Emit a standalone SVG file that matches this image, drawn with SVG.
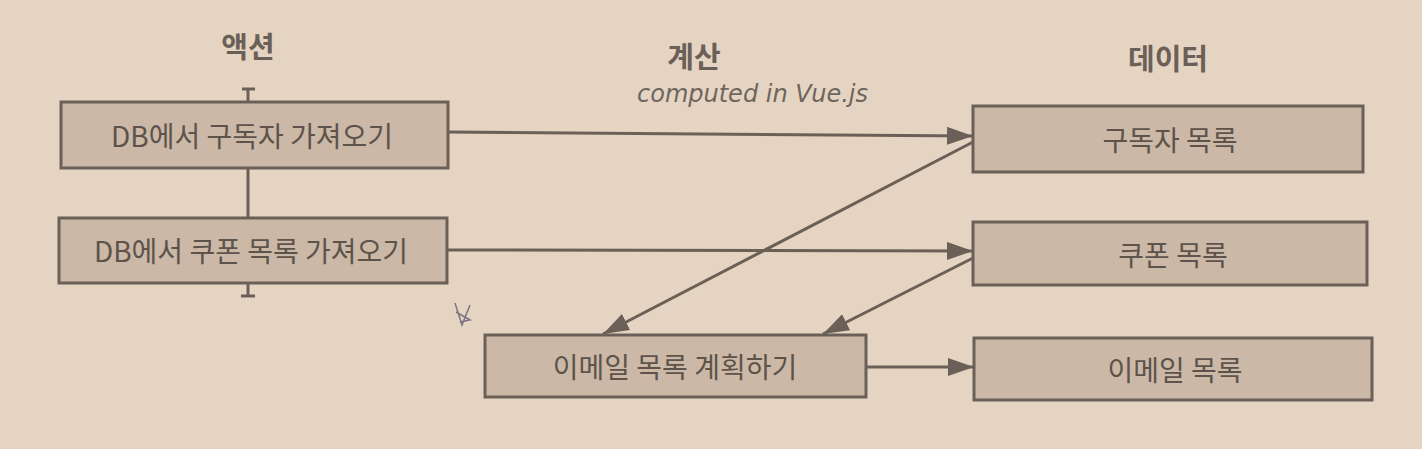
<svg xmlns="http://www.w3.org/2000/svg" width="1422" height="449" viewBox="0 0 1422 449">
<style>
.bg{fill:#e6d4c2}
.box{fill:#cbb8a6;stroke:#6b6057;stroke-width:3}
.lbl{font-family:"Noto Sans CJK KR","Noto Sans",sans-serif;font-size:28px;fill:#5d534b;text-anchor:middle;dominant-baseline:central}
.hdr{font-family:"Noto Sans CJK KR","Noto Sans",sans-serif;font-size:29px;font-weight:bold;fill:#6a6058;text-anchor:middle;dominant-baseline:central}
.hand{font-family:"DejaVu Sans",sans-serif;font-size:24px;font-style:italic;fill:#6d665f;font-weight:200}
.con{stroke:#6b6057;stroke-width:3;fill:none}
</style>
<defs>
<marker id="ah2" viewBox="0 0 26 18" refX="26" refY="9" markerWidth="26" markerHeight="18" orient="auto" markerUnits="userSpaceOnUse">
<path d="M0,0 L26,9 L0,18 z" fill="#6b6057"/>
</marker>
</defs>
<rect class="bg" x="0" y="0" width="1422" height="449"/>
<g id="headers">
<text class="hdr" x="248" y="45">액션</text>
<text class="hdr" x="694" y="55">계산</text>
<text class="hdr" x="1168" y="57">데이터</text>
<text class="hand" x="637" y="102">computed in Vue.js</text>
</g>
<g id="connectors">
<line class="con" x1="248" y1="89" x2="248" y2="102"/>
<line class="con" x1="242" y1="89" x2="255" y2="89"/>
<line class="con" x1="248" y1="168" x2="248" y2="218"/>
<line class="con" x1="248" y1="283" x2="248" y2="296"/>
<line class="con" x1="241" y1="296" x2="255" y2="296"/>
<line class="con" x1="448" y1="132" x2="973" y2="136" marker-end="url(#ah2)"/>
<line class="con" x1="447" y1="250" x2="973" y2="251" marker-end="url(#ah2)"/>
<line class="con" x1="866" y1="367" x2="974" y2="367" marker-end="url(#ah2)"/>
<line class="con" x1="973" y1="142" x2="603" y2="334" marker-end="url(#ah2)"/>
<line class="con" x1="973" y1="258" x2="823" y2="334" marker-end="url(#ah2)"/>
<path d="M455,303 L462,325 L470,305 M456,312 L470,320 L460,322" stroke="#7a7580" stroke-width="1.5" fill="none"/>
</g>
<g id="n1"><rect class="box" x="61" y="102" width="387" height="66"/><text class="lbl" x="252" y="135">DB에서 구독자 가져오기</text></g>
<g id="n2"><rect class="box" x="59" y="218" width="388" height="65"/><text class="lbl" x="251" y="250">DB에서 쿠폰 목록 가져오기</text></g>
<g id="n3"><rect class="box" x="485" y="335" width="381" height="62"/><text class="lbl" x="675" y="366">이메일 목록 계획하기</text></g>
<g id="n4"><rect class="box" x="973" y="106" width="390" height="66"/><text class="lbl" x="1170" y="139">구독자 목록</text></g>
<g id="n5"><rect class="box" x="973" y="222" width="394" height="63"/><text class="lbl" x="1173" y="254">쿠폰 목록</text></g>
<g id="n6"><rect class="box" x="974" y="338" width="398" height="62"/><text class="lbl" x="1175" y="369">이메일 목록</text></g>
</svg>
